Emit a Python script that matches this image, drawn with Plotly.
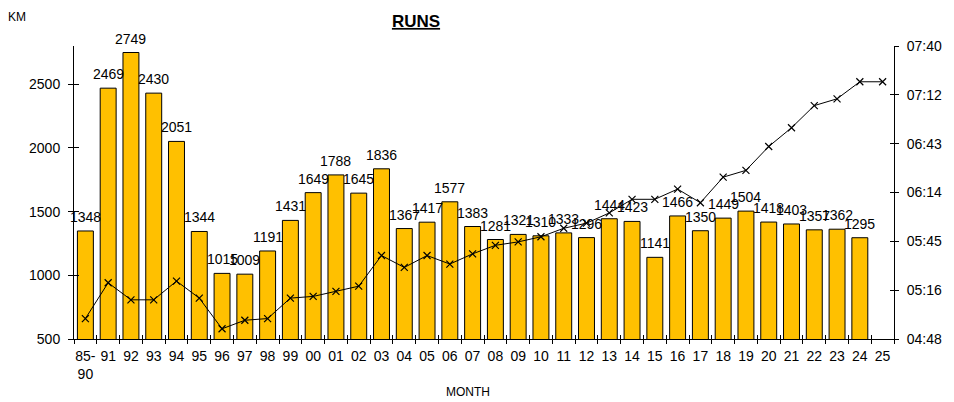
import plotly.graph_objects as go

months = ["85-<br>90", "91", "92", "93", "94", "95", "96", "97", "98", "99",
          "00", "01", "02", "03", "04", "05", "06", "07", "08", "09",
          "10", "11", "12", "13", "14", "15", "16", "17", "18", "19",
          "20", "21", "22", "23", "24", "25"]

km = [1348, 2469, 2749, 2430, 2051, 1344, 1015, 1009, 1191, 1431,
      1649, 1788, 1645, 1836, 1367, 1417, 1577, 1383, 1281, 1321,
      1310, 1333, 1296, 1444, 1423, 1141, 1466, 1350, 1449, 1504,
      1418, 1403, 1357, 1362, 1295]

# pace per km in seconds
pace_sec = [300, 321, 311, 311, 322, 312, 294, 299, 300, 312,
            313, 316, 319, 337, 330, 337, 332, 338, 343, 345,
            348, 353, 356, 362, 370, 370, 376, 368, 383, 387,
            401, 412, 425, 429, 439, 439]

pace_ticks = [288, 316.67, 345.33, 374, 402.67, 431.33, 460]
pace_labels = ["04:48", "05:16", "05:45", "06:14", "06:43", "07:12", "07:40"]

FONT = "Liberation Sans, Arial, sans-serif"
# the page body adds an 8px offset, so the figure is drawn 8px smaller
OFF = 8
W, H = 954 - OFF, 402 - OFF
L, R, T, B = 74 - OFF, 58, 46 - OFF, 63
PW, PH = W - L - R, H - T - B

fig = go.Figure()
fig.add_trace(go.Bar(
    x=months[:len(km)], y=km, name="KM",
    marker=dict(color="#FFC000", line=dict(color="black", width=1)),
    hoverinfo="x+y",
))
fig.add_trace(go.Scatter(
    x=months, y=pace_sec, yaxis="y2", mode="lines+markers", name="Pace",
    line=dict(color="black", width=1),
    marker=dict(symbol="x-thin", size=7, line=dict(color="black", width=1.2)),
))
# dummy traces so the overlay axes (used for crossing tick marks) get drawn
fig.add_trace(go.Scatter(x=months, y=[None] * len(months), xaxis="x2", yaxis="y3",
                         showlegend=False, hoverinfo="skip"))
fig.add_trace(go.Scatter(x=months, y=[None] * len(months), xaxis="x2", yaxis="y4",
                         showlegend=False, hoverinfo="skip"))

# value labels above the bars (x given as category index)
annotations = [
    dict(x=i, y=v, xref="x", yref="y", text=str(v), showarrow=False,
         xanchor="center", yanchor="bottom", yshift=4,
         font=dict(size=14, family=FONT, color="black"))
    for i, v in enumerate(km)
]
annotations += [
    dict(text="KM", xref="paper", yref="paper",
         x=(17 - 74) / PW, y=(339 - 17) / PH,
         xanchor="center", yanchor="middle", showarrow=False,
         font=dict(size=12, family=FONT, color="black")),
    dict(text="MONTH", xref="paper", yref="paper",
         x=(469 - 74) / PW, y=-(392 - 339) / PH,
         xanchor="center", yanchor="middle", showarrow=False,
         font=dict(size=12, family=FONT, color="black")),
]

tickfont = dict(size=14, color="black", family=FONT)
fig.update_layout(
    width=W, height=H,
    margin=dict(l=L, r=R, t=T, b=B),
    paper_bgcolor="white", plot_bgcolor="white",
    showlegend=False, bargap=0.3,
    font=dict(family=FONT, color="black"),
    title=dict(text="<b><u>RUNS</u></b>", x=(416 - OFF) / W, xanchor="center",
               y=1 - (21 - OFF) / H, yanchor="middle", font=dict(size=17, family=FONT)),
    xaxis=dict(type="category", categoryorder="array", categoryarray=months,
               range=[-0.5, 35.5], showline=True, linecolor="black", linewidth=1,
               ticks="outside", ticklen=4, tickcolor="black", tickson="boundaries",
               tickfont=tickfont, tickangle=0, ticklabelstandoff=4,
               showgrid=False, zeroline=False),
    xaxis2=dict(type="category", categoryorder="array", categoryarray=months,
                range=[-0.5, 35.5], overlaying="x", anchor="y",
                ticks="inside", ticklen=4, tickcolor="black", tickson="boundaries",
                showticklabels=False, showgrid=False, showline=False, zeroline=False),
    yaxis=dict(range=[500, 2800], tickvals=[500, 1000, 1500, 2000, 2500],
               showline=True, linecolor="black", linewidth=1,
               ticks="outside", ticklen=5, tickcolor="black",
               tickfont=tickfont, ticklabelstandoff=5,
               showgrid=False, zeroline=False),
    yaxis3=dict(range=[500, 2800], tickvals=[500, 1000, 1500, 2000, 2500],
                overlaying="y", side="left", anchor="x",
                ticks="inside", ticklen=5, tickcolor="black",
                showticklabels=False, showgrid=False, showline=False, zeroline=False),
    yaxis2=dict(range=[288, 460], tickvals=pace_ticks, ticktext=pace_labels,
                overlaying="y", side="right", anchor="x",
                showline=True, linecolor="black", linewidth=1,
                ticks="outside", ticklen=4, tickcolor="black",
                tickfont=tickfont, ticklabelstandoff=5,
                showgrid=False, zeroline=False),
    yaxis4=dict(range=[288, 460], tickvals=pace_ticks,
                overlaying="y", side="right", anchor="x",
                ticks="inside", ticklen=4, tickcolor="black",
                showticklabels=False, showgrid=False, showline=False, zeroline=False),
    annotations=annotations,
)

fig.write_html("out.html")
